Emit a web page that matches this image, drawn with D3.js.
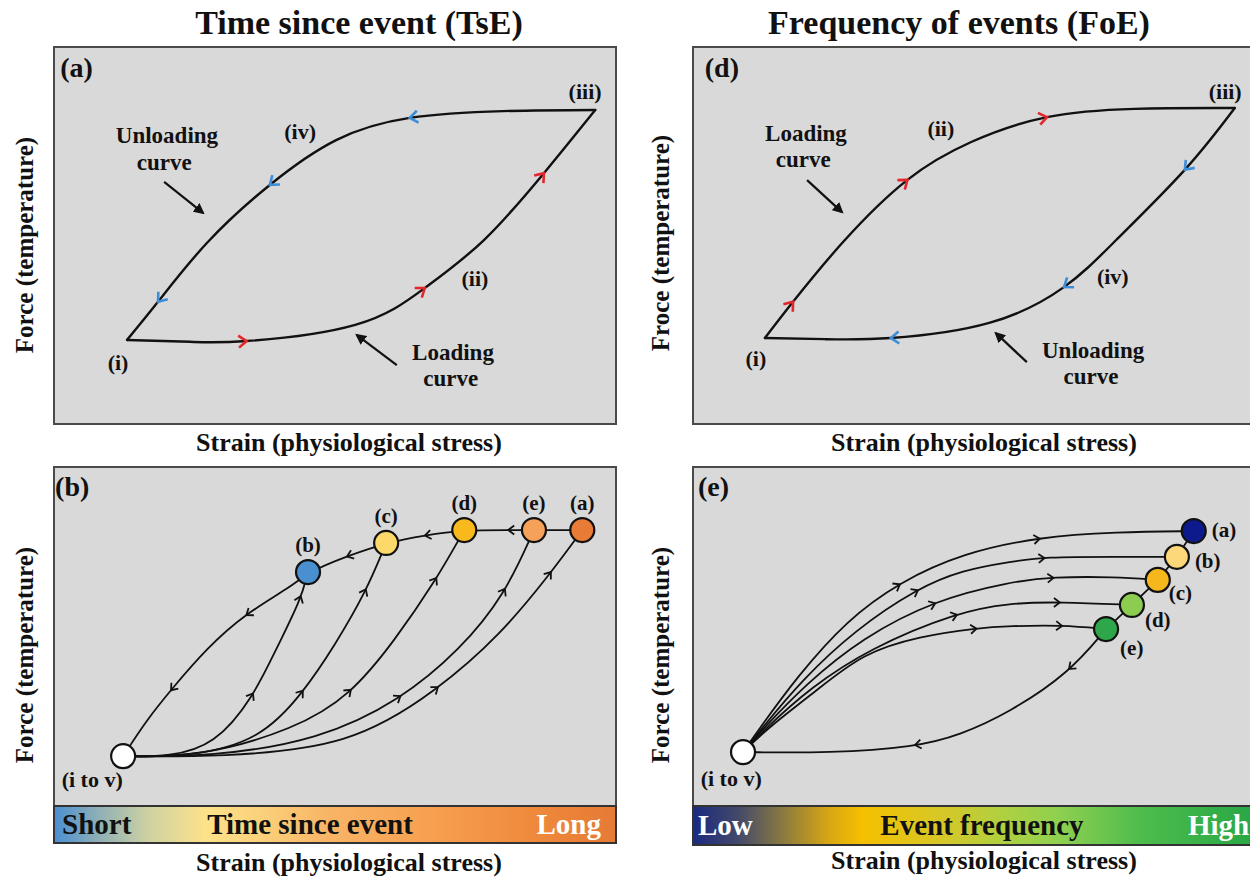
<!DOCTYPE html>
<html>
<head>
<meta charset="utf-8">
<script src="https://cdn.jsdelivr.net/npm/d3@7"></script>
<style>
  body { margin: 0; background: #fff; }
</style>
</head>
<body>
<svg width="1250" height="878"></svg>
<script>
// ---- data (all curve points in 0-100 "strain" / "force" units of each panel) ----
var titles = ["Time since event (TsE)", "Frequency of events (FoE)"];
var xLabel = "Strain (physiological stress)";
var yLabels = ["Force (temperature)", "Froce (temperature)", "Force (temperature)", "Force (temperature)"];
var tseBarText = ["Short", "Time since event", "Long"];
var foeBarText = ["Low", "Event frequency", "High"];

// (a) loop for TsE
var tseLoopLoading = [[13.0,22.3],[24.2,21.8],[34.3,22.0],[53.6,26.3],[66.0,36.1],[76.5,48.8],[87.2,66.6],[96.3,83.3]];
var tseLoopUnloading = [[96.3,83.3],[79.9,83.0],[63.3,81.2],[50.2,75.3],[38.4,63.4],[27.2,48.0],[18.5,32.4],[13.0,22.3]];
var tseLoopLoadArrows = [34.3, 66.0, 87.2];
var tseLoopUnloadArrows = [63.3, 38.4, 18.5];

// (d) loop for FoE
var foeLoopLoading = [[12.8,22.8],[17.8,32.4],[26.9,48.6],[38.1,64.7],[49.5,74.8],[63.0,81.4],[78.6,83.6],[96.4,83.8]];
var foeLoopUnloading = [[96.4,83.8],[87.5,67.4],[75.3,48.8],[66.0,36.3],[52.7,26.8],[35.2,22.8],[23.5,22.5],[12.8,22.8]];
var foeLoopLoadArrows = [17.8, 38.1, 63.0];
var foeLoopUnloadArrows = [87.5, 66.0, 35.2];

// (b) TsE states
var tseStart = [12.3, 14.7];
var tseNodeIds = ["b", "c", "d", "e", "a"];
var tseNodeX = [45.2, 59.1, 73.0, 85.4, 94.0];
var tseNodeY = [69.0, 77.6, 81.4, 81.4, 81.4];
var tseNodeFill = ["#4a90d0", "#fdd96a", "#f8b91c", "#f6a15a", "#e87b35"];
var tseLoadingMid = [
  [[20.6,14.5],[28.6,18.0],[35.4,31.9],[39.7,46.9],[43.9,60.8]],
  [[24.2,14.5],[36.7,19.5],[44.3,33.3],[50.0,47.5],[55.5,63.1]],
  [[26.0,14.5],[42.9,22.7],[52.8,32.7],[60.7,49.0],[68.0,66.7]],
  [[27.8,14.5],[47.3,19.5],[61.7,31.3],[72.2,46.0],[80.2,62.2]],
  [[29.5,14.5],[52.7,17.5],[68.3,34.2],[79.4,50.4],[88.4,68.7]]
];
var tseLoadingArrows = [[35.4,43.9],[44.3,55.5],[52.8,68.0],[61.7,80.2],[68.3,88.4]];
var tseReturn = [[94.0,81.4],[85.4,81.4],[80.8,81.4],[73.0,81.4],[66.0,79.9],[59.1,77.6],[52.1,73.7],[45.2,69.0],
                 [42.2,64.6],[34.2,56.9],[27.2,46.6],[20.8,34.2],[16.5,25.4],[12.3,14.7]];
var tseReturnArrows = [80.8, 66.0, 52.1, 34.2, 20.8];

// (e) FoE states
var foeStart = [8.9, 15.9];
var foeNodeIds = ["a", "b", "c", "d", "e"];
var foeNodeX = [89.1, 86.1, 82.7, 78.1, 73.5];
var foeNodeY = [81.1, 73.5, 66.7, 59.3, 52.2];
var foeNodeFill = ["#0d1a8c", "#fdd87a", "#f6b71c", "#8ccc50", "#2ea64a"];
var foeLoadingMid = [
  [[11.9,23.0],[18.5,38.1],[27.4,54.9],[36.8,66.1],[48.0,74.6],[61.7,79.4],[75.3,80.8]],
  [[12.3,23.0],[19.4,37.2],[28.8,51.9],[40.0,64.3],[48.0,69.6],[56.4,72.0],[62.6,73.5],[75.3,73.5]],
  [[12.6,23.0],[20.1,36.0],[30.1,49.6],[43.1,60.8],[56.4,66.1],[64.1,67.6],[75.0,67.6]],
  [[13.0,23.0],[20.8,34.8],[31.5,46.6],[47.0,57.2],[56.4,59.9],[65.3,60.2]],
  [[13.3,23.0],[22.1,34.2],[30.2,45.1],[40.4,50.1],[50.5,52.5],[56.4,53.1],[65.7,53.4]]
];
var foeLoadingArrows = [[36.8,61.7],[40.0,62.6],[43.1,64.1],[47.0,65.3],[50.5,65.7]];
var foeReturn = [[73.5,52.2],[66.9,39.2],[56.4,27.7],[47.5,20.9],[39.5,17.4],[24.4,15.6],[8.9,15.9]];
var foeReturnArrows = [66.9, 39.5];

// colour bars
var tseBarStops = [[0,"#4a8fd2"],[0.08,"#8fb0b5"],[0.17,"#cfd2a2"],[0.27,"#fde28a"],[0.37,"#fbd07a"],
                   [0.49,"#f8b466"],[0.67,"#f6a050"],[0.85,"#ef8a3c"],[1,"#e57a35"]];
var foeBarStops = [[0,"#1a2a80"],[0.08,"#43496a"],[0.16,"#8a7a40"],[0.24,"#d6a514"],[0.3,"#f5c000"],
                   [0.45,"#d4c82a"],[0.55,"#b0d040"],[0.65,"#8fd050"],[0.8,"#4cbc4c"],[1,"#28a745"]];

// ---- layout ----
var svg = d3.select("svg");
var RED = "#e3262b", BLUE = "#3c8ed6";
var FONT = "'Liberation Serif', 'Times New Roman', serif";

var boxes = {
  a: {left: 54, right: 616, top: 47, bottom: 424},
  d: {left: 693, right: 1255, top: 47, bottom: 424},
  b: {left: 54, right: 616, top: 467, bottom: 806, bar: 843},
  e: {left: 693, right: 1255, top: 467, bottom: 806, bar: 845}
};

// every text goes through here so the serif face is set inline
function txt(parent, s, x, y, size, anchor, fill) {
  return parent.append("text").attr("x", x).attr("y", y)
    .attr("text-anchor", anchor || "start")
    .style("font-family", FONT).style("font-weight", "bold")
    .style("font-size", size + "px").style("fill", fill || "#111")
    .text(s);
}

var defs = svg.append("defs");
defs.append("marker").attr("id", "head")
  .attr("viewBox", "0 0 10 10").attr("refX", 8).attr("refY", 5)
  .attr("markerWidth", 5).attr("markerHeight", 5).attr("orient", "auto")
  .append("path").attr("d", "M0,0L10,5L0,10z").attr("fill", "#111");

function gradient(id, stops) {
  var g = defs.append("linearGradient").attr("id", id).attr("x1", 0).attr("x2", 1).attr("y1", 0).attr("y2", 0);
  stops.forEach(function(s) { g.append("stop").attr("offset", s[0]).attr("stop-color", s[1]); });
}
gradient("tseGrad", tseBarStops);
gradient("foeGrad", foeBarStops);

function panel(b) {
  var g = svg.append("g");
  g.append("rect").attr("x", b.left).attr("y", b.top)
    .attr("width", b.right - b.left).attr("height", (b.bar || b.bottom) - b.top)
    .attr("fill", "#d9d9d9").attr("stroke", "#4a4a4a").attr("stroke-width", 2);
  b.x = d3.scaleLinear().domain([0, 100]).range([b.left, b.right]);
  b.y = d3.scaleLinear().domain([0, 100]).range([b.bottom, b.top]);
  b.g = g;
  return b;
}

function curve(b, pts, width, kind) {
  var line = d3.line().x(function(d) { return b.x(d[0]); }).y(function(d) { return b.y(d[1]); })
    .curve(kind || d3.curveNatural);
  return b.g.append("path").attr("d", line(pts))
    .attr("fill", "none").attr("stroke", "#111").attr("stroke-width", width)
    .attr("stroke-linecap", "round").node();
}

function arrows(b, pathEl, xs, color, size, width) {
  var L = pathEl.getTotalLength(), n = 800;
  var pts = d3.range(n + 1).map(function(i) { return pathEl.getPointAtLength(L * i / n); });
  xs.forEach(function(v) {
    var px = b.x(v), best = 2;
    for (var i = 2; i < n - 1; i++) {
      if (Math.abs(pts[i].x - px) < Math.abs(pts[best].x - px)) best = i;
    }
    var p0 = pts[best - 2], p1 = pts[best + 2];
    var ang = Math.atan2(p1.y - p0.y, p1.x - p0.x) * 180 / Math.PI;
    b.g.append("path")
      .attr("d", "M" + (-size) + "," + (-size * 0.75) + "L0,0L" + (-size) + "," + (size * 0.75))
      .attr("transform", "translate(" + pts[best].x + "," + pts[best].y + ") rotate(" + ang + ")")
      .attr("fill", "none").attr("stroke", color).attr("stroke-width", width)
      .attr("stroke-linejoin", "miter");
  });
}

function label(b, s, x, y, anchor, size) {
  return txt(b.g, s, b.x(x), b.y(y), size, anchor || "middle");
}

function pointer(b, x1, y1, x2, y2) {
  b.g.append("line").attr("x1", b.x(x1)).attr("y1", b.y(y1)).attr("x2", b.x(x2)).attr("y2", b.y(y2))
    .attr("stroke", "#111").attr("stroke-width", 2.2).attr("marker-end", "url(#head)");
}

function nodes(b, xs, ys, fills, r) {
  b.g.selectAll(null).data(xs).enter().append("circle")
    .attr("cx", function(d) { return b.x(d); })
    .attr("cy", function(d, i) { return b.y(ys[i]); })
    .attr("r", r).attr("fill", function(d, i) { return fills[i]; })
    .attr("stroke", "#111").attr("stroke-width", 2.2);
}

function colourBar(b, gradId) {
  b.g.append("rect").attr("x", b.left).attr("y", b.bottom)
    .attr("width", b.right - b.left).attr("height", b.bar - b.bottom)
    .attr("fill", "url(#" + gradId + ")").attr("stroke", "#333").attr("stroke-width", 2);
}

// ---- titles and axis labels ----
txt(svg, titles[0], 359, 34, 34, "middle");
txt(svg, titles[1], 959, 34, 34, "middle");

[[349, 451], [984, 451], [349, 871], [984, 869]].forEach(function(p) {
  txt(svg, xLabel, p[0], p[1], 26, "middle");
});
[[33, 245], [669, 243], [33, 655], [669, 655]].forEach(function(p, i) {
  txt(svg, yLabels[i], 0, 0, 25, "middle")
    .attr("transform", "translate(" + p[0] + "," + p[1] + ") rotate(-90)");
});

// ---- panel (a) ----
var pa = panel(boxes.a);
var aLoad = curve(pa, tseLoopLoading, 2.4);
var aUnload = curve(pa, tseLoopUnloading, 2.4);
arrows(pa, aLoad, tseLoopLoadArrows, RED, 8, 2.6);
arrows(pa, aUnload, tseLoopUnloadArrows, BLUE, 8, 2.6);
label(pa, "(a)", 1.1, 92.0, "start", 28);
label(pa, "(iii)", 94.5, 86.2, "middle", 22);
label(pa, "(iv)", 43.8, 75.6, "middle", 22);
label(pa, "(ii)", 74.9, 36.6, "middle", 22);
label(pa, "(i)", 11.4, 14.3, "middle", 22);
label(pa, "Unloading", 20.1, 74.5, "middle", 23);
label(pa, "curve", 19.6, 67.4, "middle", 23);
label(pa, "Loading", 71.0, 17.0, "middle", 23);
label(pa, "curve", 70.6, 10.1, "middle", 23);
pointer(pa, 19.6, 64.2, 26.5, 56.0);
pointer(pa, 61.0, 15.6, 53.9, 23.6);

// ---- panel (d) ----
var pd = panel(boxes.d);
var dLoad = curve(pd, foeLoopLoading, 2.4);
var dUnload = curve(pd, foeLoopUnloading, 2.4);
arrows(pd, dLoad, foeLoopLoadArrows, RED, 8, 2.6);
arrows(pd, dUnload, foeLoopUnloadArrows, BLUE, 8, 2.6);
label(pd, "(d)", 2.1, 92.0, "start", 28);
label(pd, "(iii)", 94.7, 86.2, "middle", 22);
label(pd, "(ii)", 44.1, 76.4, "middle", 22);
label(pd, "(iv)", 74.7, 37.1, "middle", 22);
label(pd, "(i)", 11.2, 15.4, "middle", 22);
label(pd, "Loading", 20.1, 75.1, "middle", 23);
label(pd, "curve", 19.6, 68.2, "middle", 23);
label(pd, "Unloading", 71.2, 17.5, "middle", 23);
label(pd, "curve", 70.8, 10.6, "middle", 23);
pointer(pd, 20.3, 64.7, 26.5, 56.2);
pointer(pd, 59.4, 16.4, 53.9, 24.1);

// ---- panel (b) ----
var pb = panel(boxes.b);
colourBar(pb, "tseGrad");
tseLoadingMid.forEach(function(mid, i) {
  var pts = [tseStart].concat(mid, [[tseNodeX[i], tseNodeY[i]]]);
  var p = curve(pb, pts, 1.8, d3.curveBasis);
  arrows(pb, p, tseLoadingArrows[i], "#111", 6, 1.8);
});
var bRet = curve(pb, tseReturn, 1.8, d3.curveBasis);
arrows(pb, bRet, tseReturnArrows, "#111", 6, 1.8);
nodes(pb, [tseStart[0]], [tseStart[1]], ["#fff"], 12);
nodes(pb, tseNodeX, tseNodeY, tseNodeFill, 12);
tseNodeIds.forEach(function(id, i) {
  txt(pb.g, "(" + id + ")", pb.x(tseNodeX[i]), pb.y(tseNodeY[i]) - 20, 21, "middle");
});
label(pb, "(b)", 0.2, 91.4, "start", 28);
label(pb, "(i to v)", 6.8, 5.6, "middle", 22);
txt(pb.g, tseBarText[0], 62, 834, 29, "start");
txt(pb.g, tseBarText[1], 310, 834, 29, "middle");
txt(pb.g, tseBarText[2], 601, 834, 29, "end", "#fff");

// ---- panel (e) ----
var pe = panel(boxes.e);
colourBar(pe, "foeGrad");
foeLoadingMid.forEach(function(mid, i) {
  var pts = [foeStart].concat(mid, [[foeNodeX[i], foeNodeY[i]]]);
  var p = curve(pe, pts, 1.8, d3.curveBasis);
  arrows(pe, p, foeLoadingArrows[i], "#111", 6, 1.8);
});
var chain = foeNodeX.map(function(x, i) { return [x, foeNodeY[i]]; });
curve(pe, chain, 1.8, d3.curveLinear);
var eRet = curve(pe, foeReturn, 1.8, d3.curveBasis);
arrows(pe, eRet, foeReturnArrows, "#111", 6, 1.8);
nodes(pe, [foeStart[0]], [foeStart[1]], ["#fff"], 12);
nodes(pe, foeNodeX, foeNodeY, foeNodeFill, 12);
var eLabelOffset = [[18, 6], [18, 11], [11, 20], [13, 22], [14, 26]];
foeNodeIds.forEach(function(id, i) {
  txt(pe.g, "(" + id + ")", pe.x(foeNodeX[i]) + eLabelOffset[i][0], pe.y(foeNodeY[i]) + eLabelOffset[i][1], 21, "start");
});
label(pe, "(e)", 0.9, 91.4, "start", 28);
label(pe, "(i to v)", 6.8, 5.9, "middle", 22);
txt(pe.g, foeBarText[0], 698, 835, 29, "start", "#fff");
txt(pe.g, foeBarText[1], 982, 835, 29, "middle");
txt(pe.g, foeBarText[2], 1188, 835, 29, "start", "#fff");
</script>
</body>
</html>
